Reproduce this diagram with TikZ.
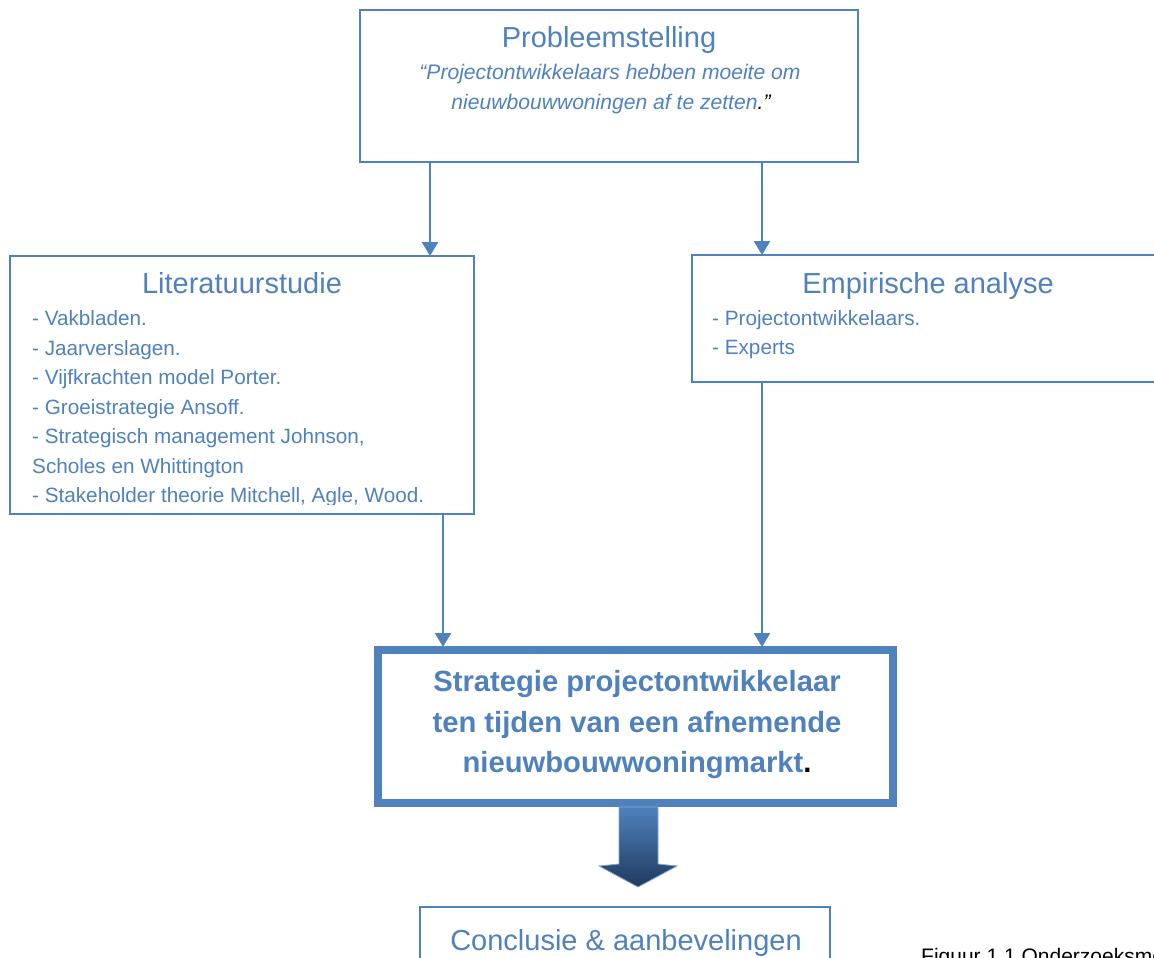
\documentclass[tikz,border=0pt]{standalone}
\usepackage{fontspec}
\setmainfont{Liberation Sans}
\usetikzlibrary{arrows.meta}
\definecolor{ob}{HTML}{4F81BD}
\definecolor{dk}{HTML}{1F3A5F}
\begin{document}
\begin{tikzpicture}[x=1pt,y=-1pt,
  box/.style={draw=ob,line width=2pt},
  conn/.style={draw=ob,line width=2.5pt,-{Triangle[width=16pt,length=14pt]}},
  ttl/.style={text=ob,font=\fontsize{29}{29}\selectfont,anchor=base,inner sep=0pt},
  itm/.style={text=ob,font=\fontsize{20.7}{20.7}\selectfont,anchor=base west,inner sep=0pt},
  bld/.style={text=ob,font=\fontsize{29.2}{29.2}\selectfont\bfseries,anchor=base,inner sep=0pt},
  figcap/.style={text=black,font=\fontsize{21}{21}\selectfont,anchor=base west,inner sep=0pt}]
\useasboundingbox (0,0) rectangle (1154,958);
\clip (0,0) rectangle (1154,958);
% boxes
\draw[box] (360,10) rectangle (858,162);
\draw[box] (10,256) rectangle (474,514);
\draw[box] (692,255) rectangle (1164,382);
\draw[draw=ob,line width=7.5pt] (378,650) rectangle (893,803);
\draw[draw=ob,line width=2pt] (420,907) rectangle (830,990);
% named anchors
\coordinate (pA) at (430,163);
\coordinate (pB) at (762,163);
\coordinate (lT) at (430,256);
\coordinate (eT) at (762,255);
\coordinate (lB) at (443,514);
\coordinate (eB) at (762,382);
\coordinate (sL) at (443,647);
\coordinate (sR) at (762,647);
% connectors
\draw[conn] (pA) -- (lT);
\draw[conn] (pB) -- (eT);
\draw[conn] (lB) -- (sL);
\draw[conn] (eB) -- (sR);
% texts
\node[ttl] (pt) at (609,48) {Probleemstelling};
\node[ttl,font=\fontsize{21.1}{21.1}\selectfont\itshape] (p1) at (610,80) {“Projectontwikkelaars hebben moeite om};
\node[ttl,font=\fontsize{21.1}{21.1}\selectfont\itshape] (p2) at (611,110) {nieuwbouwwoningen af te zetten\textcolor{black}{.”}};
\node[ttl] (lt) at (242,293) {Literatuurstudie};
\begin{scope}
\clip (12,258) rectangle (472,504.5);
\node[itm] (l1) at (32,325) {- Vakbladen.};
\node[itm] (l2) at (32,355) {- Jaarverslagen.};
\node[itm] (l3) at (32,384) {- Vijfkrachten model Porter.};
\node[itm] (l4) at (32,414) {- Groeistrategie Ansoff.};
\node[itm] (l5) at (32,443) {- Strategisch management Johnson,};
\node[itm] (l6) at (32,473) {Scholes en Whittington};
\node[itm] (l7) at (32,502) {- Stakeholder theorie Mitchell, Agle, Wood.};
\end{scope}
\node[ttl] (et) at (928,293) {Empirische analyse};
\node[itm] (e1) at (712,325) {- Projectontwikkelaars.};
\node[itm] (e2) at (712,354) {- Experts};
\node[bld] (s1) at (637,691) {Strategie projectontwikkelaar};
\node[bld] (s2) at (637,732) {ten tijden van een afnemende};
\node[bld] (s3) at (637,772) {nieuwbouwwoningmarkt\textcolor{black}{.}};
\node[ttl] (ct) at (626,950) {Conclusie \& aanbevelingen};
\node[figcap] (fg) at (921,963) {Figuur 1.1 Onderzoeksmodel};
% block arrow
\shade[top color=ob,bottom color=dk,draw=ob!70,line width=0.8pt]
  (619,807) -- (658,807) -- (658,864) -- (677,866) -- (638,887) -- (599,866) -- (619,864) -- cycle;
\end{tikzpicture}
\end{document}
